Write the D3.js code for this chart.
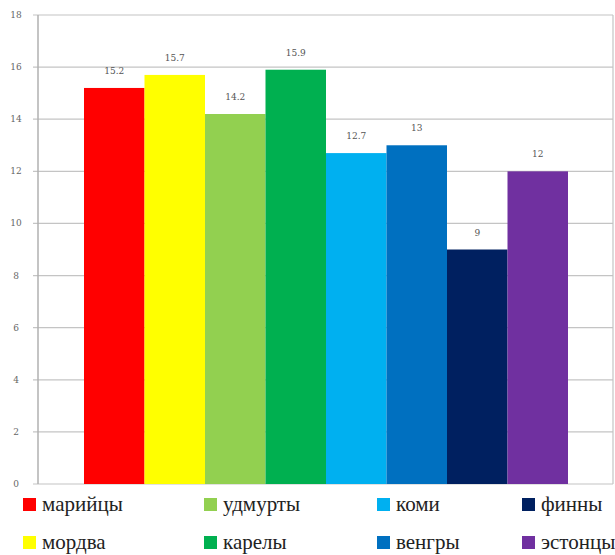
<!DOCTYPE html>
<html><head><meta charset="utf-8">
<script src="https://cdn.jsdelivr.net/npm/d3@7"></script>
<style>body{margin:0;background:#fff}svg{display:block}</style>
</head><body>
<svg id="c" width="615" height="555"></svg>
<script>
const series = ["марийцы","мордва","удмурты","карелы","коми","венгры","финны","эстонцы"];
const values = [15.2, 15.7, 14.2, 15.9, 12.7, 13, 9, 12];
const colors = ["#ff0000","#ffff00","#92d050","#00b050","#00b0f0","#0070c0","#002060","#7030a0"];
const yTicks = [0,2,4,6,8,10,12,14,16,18];

const FONT = "'DejaVu Serif', 'Liberation Serif', serif";
const svg = d3.select("#c");
const L = 38, R = 613, T = 15, B = 484;
const y = d3.scaleLinear().domain([0,18]).range([B,T]);
const x = d3.scaleBand().domain(series).range([L+46, R-45]).paddingInner(0);

// grid
svg.append("g").selectAll("line").data(yTicks).join("line")
  .attr("x1", L-5).attr("x2", R).attr("y1", d=>y(d)).attr("y2", d=>y(d))
  .attr("stroke", "#c4c4c4").attr("stroke-width", 1.2);
// borders
svg.append("line").attr("x1",L).attr("x2",L).attr("y1",T).attr("y2",B).attr("stroke","#b0b0b0").attr("stroke-width",1.5);
svg.append("line").attr("x1",R).attr("x2",R).attr("y1",T).attr("y2",B).attr("stroke","#c4c4c4").attr("stroke-width",1.2);

// y labels
svg.append("g").selectAll("text").data(yTicks).join("text")
  .attr("x", 16).attr("y", d=>y(d)+3).attr("text-anchor","middle")
  .attr("font-family", FONT).attr("font-size",9).attr("fill","#666")
  .text(d=>d);

// bars
svg.append("g").selectAll("rect").data(series).join("rect")
  .attr("x", d=>x(d)).attr("width", x.bandwidth())
  .attr("y", (d,i)=>y(values[i])).attr("height", (d,i)=>B - y(values[i]))
  .attr("fill", (d,i)=>colors[i]);

// value labels
svg.append("g").selectAll("text").data(series).join("text")
  .attr("x", d=>x(d)+x.bandwidth()/2).attr("y", (d,i)=>y(values[i]) - 14)
  .attr("text-anchor","middle")
  .attr("font-family", FONT).attr("font-size",9).attr("fill","#555")
  .text((d,i)=>String(values[i]));

// legend
const colX = [23, 204, 377, 522];
const rowY = [511, 549];
const lg = svg.append("g").selectAll("g").data(series).join("g")
  .attr("transform", (d,i)=>`translate(${colX[Math.floor(i/2)]},${rowY[i%2]})`);
lg.append("rect").attr("x",0).attr("y",-13).attr("width",13).attr("height",13).attr("fill",(d,i)=>colors[i]);
lg.append("text").attr("x",19).attr("y",0)
  .attr("font-family", "'Liberation Serif', 'Times New Roman', serif")
  .attr("font-size",21).attr("fill","#222")
  .text(d=>d);
</script>
</body></html>
